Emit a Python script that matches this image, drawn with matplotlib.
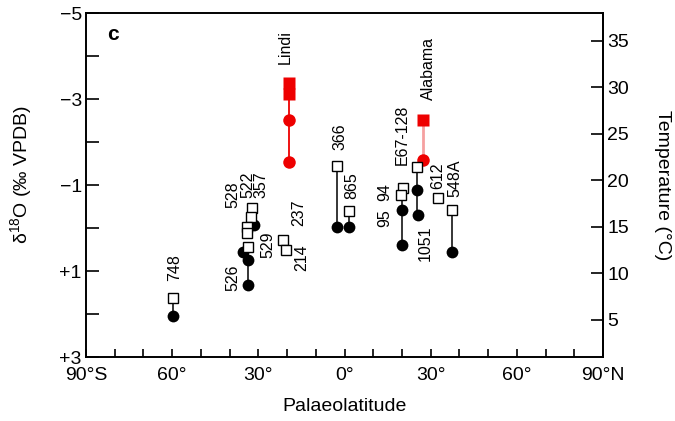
import matplotlib
matplotlib.use("Agg")
import matplotlib.pyplot as plt
import numpy as np

plt.rcParams['font.family'] = ['Liberation Sans', 'DejaVu Sans']
plt.rcParams['mathtext.default'] = 'regular'

# open squares: palaeolatitude and d18O
sq_lat = [-59.7, -32.2, -32.5, -33.9, -33.9, -33.6, -21.4, -20.4, -2.6, 1.6, 25.2, 20.4, 19.7, 32.6, 37.4]
sq_d18o = [1.63, -0.47, -0.26, -0.02, 0.12, 0.44, 0.28, 0.51, -1.44, -0.40, -1.42, -0.93, -0.77, -0.70, -0.42]

# filled circles
ci_lat = [-59.7, -31.5, -35.3, -33.6, -33.6, -2.6, 1.6, 25.2, 25.6, 20.0, 20.0, 37.4]
ci_d18o = [2.05, -0.07, 0.56, 0.74, 1.33, -0.02, -0.02, -0.88, -0.30, -0.42, 0.40, 0.56]

# black connecting stems (lat, top, bottom)
stem_lat = [-59.7, -33.6, -2.6, 1.6, 25.2, 20.0, 37.4]
stem_top = [1.63, 0.44, -1.44, -0.40, -1.42, -0.93, -0.42]
stem_bot = [2.05, 1.33, -0.02, -0.02, -0.30, 0.40, 0.56]

# red sites (Lindi, Alabama)
red_sq_lat = [-19.3, -19.3, 27.3]
red_sq_d18o = [-3.37, -3.12, -2.51]
red_ci_lat = [-19.3, -19.3, 27.3]
red_ci_d18o = [-2.51, -1.53, -1.58]

# site labels
lab_text = ['748', '528', '522', '357', '529', '526', '237', '214', 'Lindi', '366', '865',
            'E67-128', 'Alabama', '94', '95', '1051', '612', '548A']
lab_lat = [-59.0, -38.8, -33.8, -29.0, -26.6, -38.8, -15.8, -14.8, -20.7, -1.6, 2.6,
           20.0, 29.1, 14.1, 14.1, 28.0, 32.6, 38.5]
lab_d18o = [0.91, -0.77, -1.0, -1.0, 0.40, 1.16, -0.35, 0.70, -4.21, -2.12, -0.98,
            -2.16, -3.72, -0.84, -0.23, 0.35, -1.21, -1.16]

xticks = [-90, -60, -30, 0, 30, 60, 90]
xticklabels = ['90°S', '60°', '30°', '0°', '30°', '60°', '90°N']
yticks = [-5, -3, -1, 1, 3]
yticklabels = ['\u22125', '\u22123', '\u22121', '+1', '+3']
tticks = [5, 10, 15, 20, 25, 30, 35]

fig = plt.figure(figsize=(6.75, 4.21), dpi=100)
ax = fig.add_axes([0.1274, 0.152, 0.766, 0.817])

# stems
ax.vlines(stem_lat, stem_top, stem_bot, color='black', lw=1.1, zorder=1)
ax.vlines(red_sq_lat[0], red_sq_d18o[0], red_ci_d18o[1], color='#ee0000', lw=1.3, zorder=1)
ax.vlines(red_sq_lat[2], red_sq_d18o[2], red_ci_d18o[2], color='#f5a0a0', lw=2.0, zorder=1)

ax.plot(red_ci_lat, red_ci_d18o, 'o', color='#ee0000', ms=9, mec='none', zorder=2)
ax.plot(red_sq_lat, red_sq_d18o, 's', color='#ee0000', ms=8.5, mec='none', zorder=2)
ax.plot(ci_lat, ci_d18o, 'o', color='black', ms=8.5, mec='none', zorder=3)
ax.plot(sq_lat, sq_d18o, 's', mfc='white', mec='black', mew=1.0, ms=7.5, zorder=4)

for t, x, y in zip(lab_text, lab_lat, lab_d18o):
    ax.text(x, y, t, rotation=90, ha='center', va='center', fontsize=11.5)

ax.set_xlim(-90, 90)
ax.set_ylim(3, -5)
ax.set_xticks(xticks)
ax.set_xticklabels(xticklabels, fontsize=14)
ax.set_xticks(np.arange(-80, 90, 10), minor=True)
ax.set_yticks(yticks)
ax.set_yticklabels(yticklabels, fontsize=14)
ax.set_yticks([-4, -2, 0, 2], minor=True)
ax.tick_params(axis='x', which='both', direction='in', length=6, width=1.2, pad=7)
ax.tick_params(axis='y', which='both', direction='in', length=9, width=1.2, pad=3)
for s in ax.spines.values():
    s.set_linewidth(1.4)

ax.set_xlabel('Palaeolatitude', fontsize=14, labelpad=10)
ax.set_ylabel('δ$^{18}$O (‰ VPDB)', fontsize=14)
ax.yaxis.set_label_coords(-0.1, 0.53)

sec = ax.secondary_yaxis('right', functions=(lambda d: 14.84 - 4.624 * d,
                                             lambda t: (14.84 - t) / 4.624))
sec.set_yticks(tticks)
sec.tick_params(direction='in', length=9, width=1.2, labelsize=14, pad=3)
sec.spines['right'].set_linewidth(1.4)
sec.set_ylabel('Temperature (°C)', fontsize=14, rotation=270, labelpad=30)

ax.text(0.04, 0.965, 'c', transform=ax.transAxes, fontsize=15, fontweight='bold',
        ha='left', va='top')

fig.savefig('out.png', dpi=100)
